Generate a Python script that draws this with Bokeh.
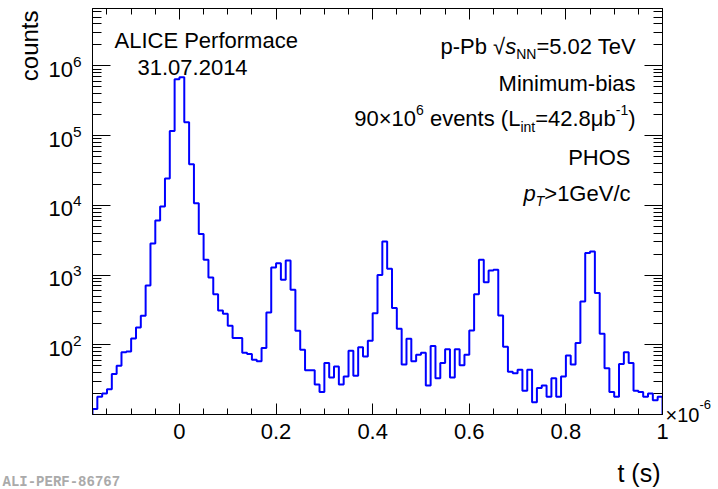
import numpy as np
from bokeh.plotting import figure
from bokeh.models import (Range1d, FixedTicker, LogAxis, LinearAxis, Label, Title,
                          CustomJSTickFormatter, LogTickFormatter)
from bokeh.embed import file_html
from bokeh.resources import INLINE

# ---------------- data ----------------
bin_lo = -0.18          # first bin edge (x 1e-6 s)
bin_width = 0.01
counts = [12, 18, 20, 23, 38, 50, 78, 80, 123, 177,
          260, 708, 2830, 6050, 9600, 24300, 117000, 646000, 689000, 156000,
          39000, 10700, 3880, 1660, 923, 533, 311, 278, 187, 125,
          125, 77, 74, 61, 58, 90, 290, 1280, 1480, 855,
          1620, 615, 159, 85, 43, 43, 27, 21, 55, 34,
          49, 27, 35, 82, 36, 92, 68, 114, 284, 1000,
          3030, 1230, 336, 170, 52, 122, 58, 72, 77, 26,
          96, 33, 55, 86, 34, 86, 51, 72, 160, 533,
          1660, 791, 1160, 1190, 263, 94, 41, 39, 44, 22,
          44, 15, 24, 26, 18, 33, 18, 35, 70, 52,
          106, 418, 2070, 2180, 551, 144, 46, 21, 18, 53,
          78, 55, 22, 21, 18, 20, 16, 18]
x_tick_values = [0, 0.2, 0.4, 0.6, 0.8, 1.0]
y_tick_exponents = [2, 3, 4, 5, 6]

X_LO, X_HI = -0.18, 1.0
Y_LO, Y_HI = 10.0, 6.67e6

FONT = "Liberation Sans"
FL, FT = 92, 8   # frame left / top in canvas pixels

p = figure(width=718, height=489, x_range=Range1d(X_LO, X_HI), y_range=Range1d(Y_LO, Y_HI),
           y_axis_type="log", output_backend="svg", toolbar_location=None,
           min_border_left=FL, min_border_right=718 - 662, min_border_top=FT, min_border_bottom=489 - 414,
           background_fill_color="white", border_fill_color="white")
p.grid.visible = False
p.outline_line_color = "black"
p.outline_line_width = 1

# histogram outline
edges = bin_lo + bin_width * np.arange(len(counts) + 1)
xs = np.repeat(edges, 2)
ys = np.concatenate([[Y_LO], np.repeat(np.array(counts, dtype=float), 2), [Y_LO]])
p.line(xs, ys, line_color="#0000ff", line_width=2)

# tickers
x_minor = [round(v, 3) for v in np.arange(-0.15, 1.0001, 0.05)]
xt = FixedTicker(ticks=x_tick_values, minor_ticks=x_minor)
y_major = [10.0 ** e for e in y_tick_exponents]
y_minor = [m * 10.0 ** d for d in range(1, 7) for m in range(2, 10) if m * 10.0 ** d < Y_HI]
yt = FixedTicker(ticks=y_major, minor_ticks=y_minor)
blank = CustomJSTickFormatter(code="return ''")


def style_axis(ax, major_in, minor_in):
    ax.axis_line_color = "black"
    ax.axis_line_width = 1
    ax.major_tick_line_color = "black"
    ax.minor_tick_line_color = "black"
    ax.major_tick_line_width = 1
    ax.minor_tick_line_width = 1
    ax.major_tick_out = 0
    ax.minor_tick_out = 0
    ax.major_tick_in = major_in
    ax.minor_tick_in = minor_in


xa = p.xaxis[0]
xa.ticker = xt
xa.formatter = CustomJSTickFormatter(code="return String(Math.round(tick*10)/10)")
style_axis(xa, 11, 6)
xa.major_label_text_font = FONT
xa.major_label_text_font_size = "22px"
xa.major_label_text_color = "black"
xa.major_label_standoff = 9

ya = p.yaxis[0]
ya.ticker = yt
ya.formatter = LogTickFormatter()
ya.major_label_text_font = FONT
ya.major_label_text_font_size = "22px"
ya.major_label_text_color = "black"
ya.major_label_standoff = 11
style_axis(ya, 18, 9)

top = LinearAxis(ticker=xt, formatter=blank, major_label_standoff=0)
style_axis(top, 11, 6)
p.add_layout(top, "above")
right = LogAxis(ticker=yt, formatter=blank, major_label_standoff=0)
style_axis(right, 18, 9)
p.add_layout(right, "right")

# y axis title, at the top end of the axis
p.add_layout(Title(text="counts", align="right", text_font=FONT, text_font_size="24px",
                   text_font_style="normal", text_color="black", standoff=6, offset=2), "left")

# ---------------- text ----------------
W = {' ': 278, '!': 278, '(': 333, ')': 333, '-': 333, '.': 278, '/': 278, '=': 584, '>': 584,
     '×': 584, 'μ': 576, '√': 549, 'A': 667, 'B': 667, 'C': 722, 'E': 667, 'G': 778, 'H': 722,
     'I': 278, 'L': 556, 'M': 833, 'N': 722, 'O': 778, 'P': 667, 'S': 667, 'T': 611, 'V': 667,
     'a': 556, 'b': 556, 'c': 500, 'e': 556, 'f': 278, 'i': 222, 'm': 833, 'n': 556, 'o': 556,
     'p': 556, 'r': 333, 's': 500, 't': 278, 'u': 556, 'v': 500}
for d in "0123456789":
    W[d] = 556


def tw(text, size):
    return sum(W.get(c, 556) for c in text) * size / 1000.0


def add_text(text, left_px, baseline_px, size, italic=False, align="left", color="black",
             font=FONT, bold=False, place="center"):
    stripped = text.lstrip(" ")
    if align == "left":
        left_px += tw(text[:len(text) - len(stripped)], size)
    style = "italic" if italic else ("bold" if bold else "normal")
    p.add_layout(Label(x=X_LO, y=Y_HI, x_offset=left_px - FL, y_offset=-(baseline_px - FT),
                       text=stripped, text_font=font, text_font_size=f"{size}px", text_font_style=style,
                       text_align=align, text_baseline="alphabetic", text_color=color), place)


def chain(pieces, right_px, baseline_px):
    total = sum(tw(t, s) for t, s, dy, it in pieces)
    x = right_px - total
    for t, s, dy, it in pieces:
        add_text(t, x, baseline_px + dy, s, italic=it)
        x += tw(t, s)


add_text("ALICE Performace", 114, 39.5, 22)
add_text("31.07.2014", 137, 66.5, 22)

chain([("p-Pb ", 22, 0, False), ("√", 22, 0, False), ("s", 22, 0, True), ("NN", 14, 7.5, False),
       ("=5.02 TeV", 22, 0, False)], 638, 45.7)
chain([("Minimum-bias", 22, 0, False)], 635, 82.7)
chain([("90×10", 22, 0, False), ("6", 14, -9, False), (" events (L", 22, 0, False),
       ("int", 14, 8, False), ("=42.8μb", 22, 0, False), ("-1", 14, -9, False), (")", 22, 0, False)],
      635, 118.3)
chain([("PHOS", 22, 0, False)], 630, 156.7)
chain([("p", 22, 0, True), ("T", 14, 7, True), (">1GeV/c", 22, 0, False)], 630, 193.3)

# texts outside the frame go into side panels (not clipped; each stays within the panel's border)
add_text("t (s)", 660, 472, 25, align="right", place="right")
add_text("-6", 665 + tw("×10", 20), 404, 13, place="right")
add_text("×10", 665, 414, 20, place="below")
add_text("ALI-PERF-86767", 2, 481, 14, font="Liberation Mono", bold=True, color="#aaaaaa", place="below")

open("out.html", "w").write(file_html(p, INLINE))
